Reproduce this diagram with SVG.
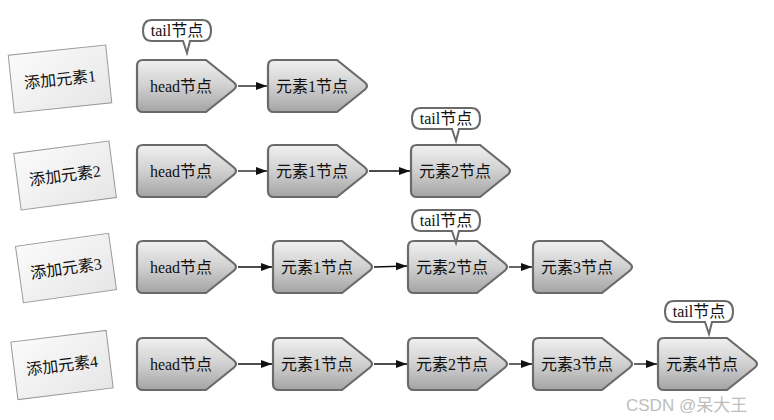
<svg xmlns="http://www.w3.org/2000/svg" width="774" height="420" viewBox="0 0 774 420">
<defs>
<linearGradient id="ng" x1="0" y1="0" x2="0" y2="1">
<stop offset="0" stop-color="#f0f0f0"/>
<stop offset="0.5" stop-color="#d0d0d0"/>
<stop offset="1" stop-color="#a4a4a4"/>
</linearGradient>
<linearGradient id="bg" x1="0" y1="0" x2="1" y2="1">
<stop offset="0" stop-color="#fbfbfb"/>
<stop offset="1" stop-color="#e6e6e6"/>
</linearGradient>
<path id="node" d="M6,0 H69 L97,22.5 Q101,26 97,29.5 L69,52 H6 Q0,52 0,46 V6 Q0,0 6,0 Z"/>
<path id="tail" d="M9,0 H59 Q68,0 68,10.5 Q68,21 59,21 H47 L44,33 L40,21 H9 Q0,21 0,10.5 Q0,0 9,0 Z"/>
<marker id="ah" viewBox="0 0 11 10" refX="11" refY="5" markerWidth="11" markerHeight="10" markerUnits="userSpaceOnUse" orient="auto">
<path d="M0,1 L11,5 L0,9 Z" fill="#111"/>
</marker>
</defs>
<style>
.n{fill:url(#ng);stroke:#6a6a6a;stroke-width:2.2}
.t{fill:#fff;stroke:#6a6a6a;stroke-width:2}
.b{fill:url(#bg);stroke:#9a9a9a;stroke-width:1}
.lbl{font-family:"Liberation Serif","Noto Sans CJK SC",serif;font-size:16px;fill:#111;text-anchor:middle}
.tl{font-family:"Liberation Serif","Noto Sans CJK SC",serif;font-size:16px;fill:#111;text-anchor:middle}
.c{stroke:#111;stroke-width:1.3;fill:none;marker-end:url(#ah)}
.wm{font-family:"Liberation Sans","Noto Sans CJK SC",sans-serif;font-size:17px;fill:#bdbdbd}
</style>
<rect width="774" height="420" fill="#ffffff"/>

<g id="add1" transform="translate(60,79) rotate(-6)">
<rect class="b" x="-49" y="-29" width="98" height="58"/>
<text class="lbl" x="0" y="6">添加元素1</text>
</g>
<g id="add2" transform="translate(65,175) rotate(-7.5)">
<rect class="b" x="-48" y="-28" width="96" height="57"/>
<text class="lbl" x="0" y="6">添加元素2</text>
</g>
<g id="add3" transform="translate(66,268) rotate(-8)">
<rect class="b" x="-47" y="-28.5" width="94" height="57"/>
<text class="lbl" x="0" y="6">添加元素3</text>
</g>
<g id="add4" transform="translate(62,365) rotate(-7)">
<rect class="b" x="-48" y="-29" width="96" height="58"/>
<text class="lbl" x="0" y="6">添加元素4</text>
</g>

<g id="r1head"><use href="#node" class="n" x="137" y="60"/><text class="lbl" x="181" y="92">head节点</text></g>
<g id="r1e1"><use href="#node" class="n" x="268" y="60"/><text class="lbl" x="312" y="92">元素1节点</text></g>
<g id="r1tail"><use href="#tail" class="t" x="143" y="20"/><text class="tl" x="177" y="36">tail节点</text></g>

<g id="r2head"><use href="#node" class="n" x="137" y="145"/><text class="lbl" x="181" y="177">head节点</text></g>
<g id="r2e1"><use href="#node" class="n" x="268" y="145"/><text class="lbl" x="312" y="177">元素1节点</text></g>
<g id="r2e2"><use href="#node" class="n" x="411" y="145"/><text class="lbl" x="455" y="177">元素2节点</text></g>
<g id="r2tail"><use href="#tail" class="t" x="412" y="108"/><text class="tl" x="446" y="124">tail节点</text></g>

<g id="r3head"><use href="#node" class="n" x="137" y="241"/><text class="lbl" x="181" y="273">head节点</text></g>
<g id="r3e1"><use href="#node" class="n" x="273" y="241"/><text class="lbl" x="317" y="273">元素1节点</text></g>
<g id="r3e2"><use href="#node" class="n" x="408" y="241"/><text class="lbl" x="452" y="273">元素2节点</text></g>
<g id="r3e3"><use href="#node" class="n" x="533" y="241"/><text class="lbl" x="577" y="273">元素3节点</text></g>
<g id="r3tail"><use href="#tail" class="t" x="412" y="210"/><text class="tl" x="446" y="226">tail节点</text></g>

<g id="r4head"><use href="#node" class="n" x="137" y="338"/><text class="lbl" x="181" y="370">head节点</text></g>
<g id="r4e1"><use href="#node" class="n" x="273" y="338"/><text class="lbl" x="317" y="370">元素1节点</text></g>
<g id="r4e2"><use href="#node" class="n" x="408" y="338"/><text class="lbl" x="452" y="370">元素2节点</text></g>
<g id="r4e3"><use href="#node" class="n" x="533" y="338"/><text class="lbl" x="577" y="370">元素3节点</text></g>
<g id="r4e4"><use href="#node" class="n" x="658" y="338"/><text class="lbl" x="702" y="370">元素4节点</text></g>
<g id="r4tail"><use href="#tail" class="t" x="665" y="301"/><text class="tl" x="699" y="317">tail节点</text></g>

<g id="connectors">
<line class="c" x1="238" y1="86" x2="267" y2="86"/>
<line class="c" x1="238" y1="171" x2="267" y2="171"/>
<line class="c" x1="369" y1="171" x2="410" y2="171"/>
<line class="c" x1="238" y1="267" x2="272" y2="267"/>
<line class="c" x1="374" y1="267" x2="407" y2="266"/>
<line class="c" x1="509" y1="267" x2="532" y2="267"/>
<line class="c" x1="238" y1="364" x2="272" y2="364"/>
<line class="c" x1="374" y1="364" x2="407" y2="364"/>
<line class="c" x1="509" y1="364" x2="532" y2="364"/>
<line class="c" x1="634" y1="364" x2="657" y2="364"/>
</g>

<text class="wm" x="626" y="411">CSDN @呆大王</text>
</svg>
